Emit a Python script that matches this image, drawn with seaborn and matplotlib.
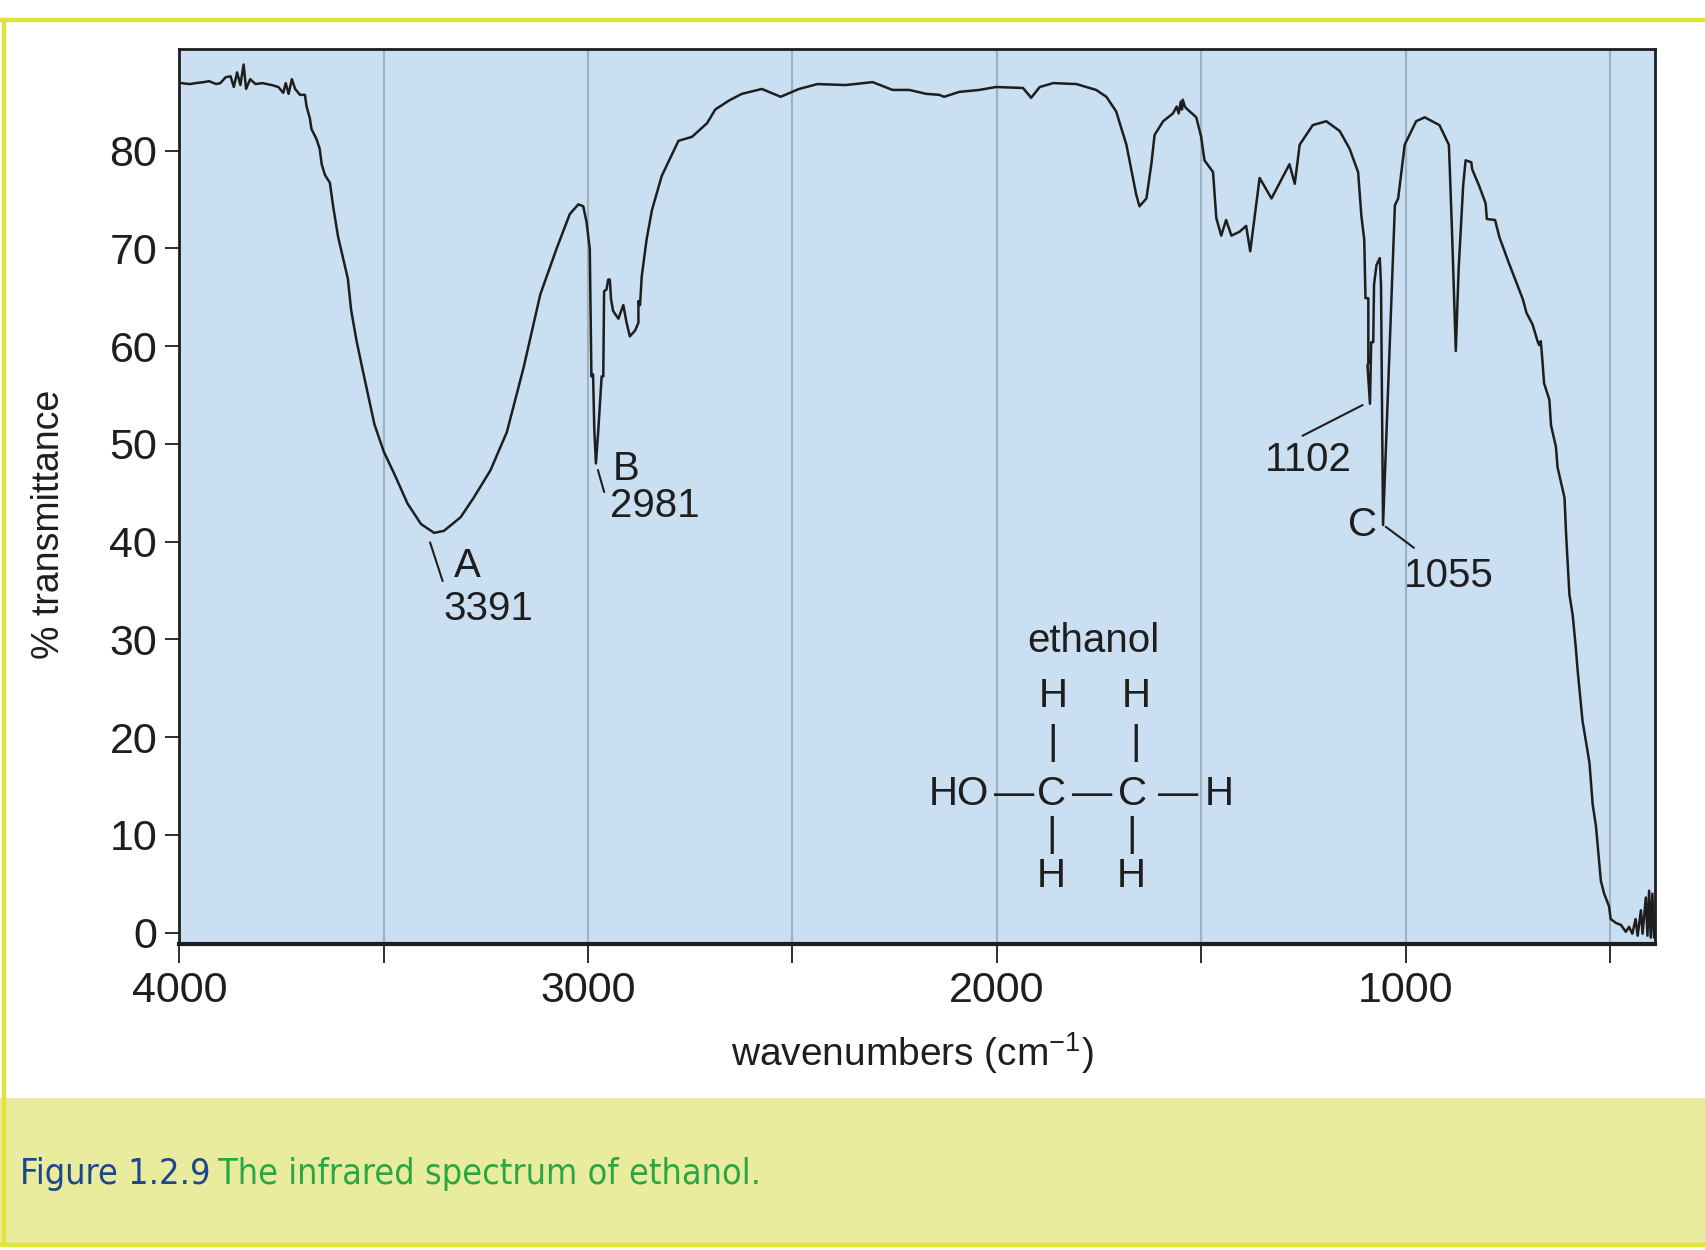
import numpy as np
import pandas as pd
import matplotlib
matplotlib.use("Agg")
import matplotlib.pyplot as plt
import seaborn as sns
from matplotlib import font_manager
from matplotlib.patches import Rectangle
from matplotlib.lines import Line2D

# --------------------------------------------
# Spectrum
# --------------------------------------------
wavenumber = [
    3995, 3975, 3960, 3940, 3928, 3910, 3900, 3887, 3875, 3867, 3859, 3851,
    3843, 3837, 3827, 3814, 3798, 3774, 3758, 3746, 3740, 3733, 3725, 3717,
    3705, 3693, 3689, 3681, 3677, 3665, 3657, 3652, 3644, 3632, 3624, 3612,
    3588, 3580, 3567, 3555, 3539, 3523, 3500, 3474, 3442, 3409, 3377, 3353,
    3312, 3280, 3239, 3199, 3158, 3117, 3077, 3045, 3024, 3012, 3004, 2996,
    2992, 2988, 2985, 2981, 2975, 2967, 2963, 2961, 2955, 2951, 2947, 2944,
    2939, 2926, 2914, 2906, 2898, 2885, 2877, 2877, 2873, 2869, 2857, 2844,
    2820, 2779, 2746, 2709, 2689, 2656, 2624, 2575, 2529, 2484, 2439, 2370,
    2304, 2255, 2214, 2173, 2141, 2129, 2092, 2043, 2002, 1941, 1936, 1916,
    1895, 1862, 1805, 1757, 1732, 1708, 1683, 1659, 1651, 1634, 1622, 1614,
    1593, 1569, 1560, 1555, 1550, 1547, 1545, 1540, 1536, 1512, 1500, 1492,
    1471, 1463, 1451, 1439, 1426, 1406, 1390, 1380, 1357, 1328, 1284, 1271,
    1259, 1227, 1194, 1161, 1137, 1116, 1108, 1101, 1098, 1091, 1091, 1093,
    1087, 1084, 1079, 1077, 1071, 1063, 1060, 1055, 1026, 1018, 1002, 974,
    953, 917, 894, 892, 886, 877, 870, 859, 853, 839, 837, 820,
    804, 801, 781, 770, 748, 713, 704, 689, 677, 673, 669, 665,
    661, 648, 644, 632, 628, 611, 607, 599, 591, 583, 579, 567,
    550, 542, 534, 522, 514, 502, 498, 485, 473, 461, 453, 445,
    437, 432, 424, 420, 412, 408, 404, 400, 396, 392,
]
transmittance = [
    86.9, 86.8, 86.9, 87.0, 87.1, 86.8, 86.9, 87.5, 87.6, 86.5, 88.0, 86.7,
    88.8, 86.3, 87.3, 86.8, 86.9, 86.7, 86.5, 85.9, 86.9, 85.8, 87.3, 86.3,
    85.7, 85.7, 84.5, 83.3, 82.2, 81.2, 80.2, 78.6, 77.5, 76.7, 74.3, 71.2,
    66.9, 63.7, 60.6, 58.2, 55.1, 52.0, 49.2, 46.9, 43.9, 41.8, 40.9, 41.1,
    42.5, 44.5, 47.3, 51.2, 57.8, 65.3, 70.0, 73.5, 74.5, 74.3, 72.7, 69.9,
    56.9, 57.1, 51.5, 48.0, 51.5, 56.9, 56.9, 65.6, 65.8, 66.8, 66.8, 64.8,
    63.6, 62.8, 64.2, 62.4, 61.0, 61.6, 62.4, 64.6, 64.2, 67.1, 70.9, 73.9,
    77.4, 81.0, 81.4, 82.8, 84.2, 85.1, 85.8, 86.3, 85.5, 86.3, 86.8, 86.7,
    87.0, 86.2, 86.2, 85.8, 85.7, 85.5, 86.0, 86.2, 86.5, 86.4, 86.4, 85.4,
    86.5, 86.9, 86.8, 86.2, 85.5, 84.0, 80.6, 75.5, 74.3, 75.1, 78.6, 81.6,
    83.0, 83.8, 84.5, 83.8, 85.0, 84.2, 85.2, 84.5, 84.3, 83.4, 81.4, 79.0,
    77.8, 73.1, 71.3, 72.9, 71.3, 71.7, 72.3, 69.7, 77.2, 75.1, 78.6, 76.6,
    80.6, 82.6, 83.0, 82.0, 80.2, 77.8, 73.3, 70.9, 64.9, 64.9, 58.3, 58.0,
    54.1, 60.4, 60.4, 66.3, 68.3, 69.0, 66.3, 41.7, 74.4, 75.1, 80.6, 83.0,
    83.4, 82.6, 80.6, 78.5, 71.4, 59.5, 67.9, 76.4, 79.0, 78.8, 78.1, 76.4,
    74.6, 73.0, 72.9, 71.1, 68.6, 64.8, 63.4, 62.2, 60.5, 60.1, 60.5, 58.5,
    56.2, 54.5, 51.9, 49.7, 47.6, 44.5, 40.7, 34.6, 32.5, 29.0, 26.9, 21.7,
    17.4, 13.1, 10.9, 5.3, 4.0, 2.7, 1.4, 1.0, 0.8, 0.1, 0.6, -0.1,
    1.4, -0.3, 2.3, -0.1, 3.6, -0.3, 4.3, -0.5, 4.0, -0.5,
]

x_ticks = [4000, 3500, 3000, 2500, 2000, 1500, 1000, 500]
x_tick_labels = ["4000", "", "3000", "", "2000", "", "1000", ""]
y_ticks = [0, 10, 20, 30, 40, 50, 60, 70, 80]

# labelled peaks: (letter, wavenumber)
peaks = [("A", 3391), ("B", 2981), ("C", 1055)]

df = pd.DataFrame({"wavenumber": wavenumber, "transmittance": transmittance})

# --------------------------------------------
# Fonts / style
# --------------------------------------------
sns.set_style("white")
fonts = font_manager.fontManager.ttflist
names = {f.name for f in fonts}
main_font = "Liberation Sans Narrow" if "Liberation Sans Narrow" in names else "Liberation Sans"
plt.rcParams["font.family"] = [main_font, "DejaVu Sans"]
plt.rcParams["mathtext.fontset"] = "custom"
plt.rcParams["mathtext.rm"] = main_font
plt.rcParams["mathtext.default"] = "regular"

# a condensed face for the caption, if one is installed
cap_font = None
for f in fonts:
    if ("Narrow" in f.name or "Condensed" in f.name or f.stretch == "condensed") \
            and f.style == "normal" and f.weight in (400, "normal", "regular"):
        cap_font = font_manager.FontProperties(fname=f.fname)
        break
if cap_font is None:
    cap_font = font_manager.FontProperties(family=main_font)

ink = "#1e1e1e"

fig = plt.figure(figsize=(17.06, 12.5), dpi=100)
fig.patch.set_facecolor("white")

# frame and caption band
fig.patches.append(Rectangle((0, 0.005), 1, 0.117, transform=fig.transFigure,
                             facecolor="#e9ec9c", edgecolor="none", zorder=0))
fig.add_artist(Line2D([0, 1], [0.9843, 0.9843], color="#dfe33a", lw=3.2))
fig.add_artist(Line2D([0.0022, 0.0022], [0.005, 0.9843], color="#dfe33a", lw=3.2))
fig.add_artist(Line2D([0, 1], [0.004, 0.004], color="#dfe33a", lw=3.2))

ax = fig.add_axes([0.1052, 0.2452, 0.8648, 0.7157])
ax.set_facecolor("#cbdff2")

for gx in x_ticks[1:]:
    ax.axvline(gx, color="#9db3c3", lw=1.6, zorder=0)

sns.lineplot(data=df, x="wavenumber", y="transmittance", sort=False,
             estimator=None, color=ink, lw=1.8, ax=ax)

ax.set_xlim(4000, 390)
ax.set_ylim(-1.1, 90.4)
ax.set_xticks(x_ticks)
ax.set_xticklabels(x_tick_labels)
ax.set_yticks(y_ticks)
ax.tick_params(axis="x", direction="out", length=14, width=1.3, color=ink,
               labelsize=31, pad=6, labelcolor=ink)
ax.tick_params(axis="y", direction="out", length=10, width=1.3, color=ink,
               labelsize=31, pad=6, labelcolor=ink)
ax.tick_params(left=True, bottom=True)
for side in ["top", "left", "right"]:
    ax.spines[side].set_color(ink)
    ax.spines[side].set_linewidth(2)
ax.spines["bottom"].set_color(ink)
ax.spines["bottom"].set_linewidth(3)

ax.set_xlabel("wavenumbers (cm$^{-1}$)", fontsize=28, color=ink)
ax.xaxis.set_label_coords(0.497, -0.097)
ax.set_ylabel("% transmittance", fontsize=27, color=ink)
ax.yaxis.set_label_coords(-0.076, 0.468)

# --------------------------------------------
# Peak annotations
# --------------------------------------------
fs = 29
ax.annotate("", xy=(3389, 40.2), xytext=(3354, 35.7),
            arrowprops=dict(arrowstyle="-", color=ink, lw=1.5))
ax.text(3328, 37.5, peaks[0][0], fontsize=fs, color=ink, va="center", ha="left")
ax.text(3354, 33.1, str(peaks[0][1]), fontsize=fs, color=ink, va="center", ha="left")

ax.annotate("", xy=(2978, 47.6), xytext=(2959, 44.8),
            arrowprops=dict(arrowstyle="-", color=ink, lw=1.5))
ax.text(2941, 47.4, peaks[1][0], fontsize=fs, color=ink, va="center", ha="left")
ax.text(2946, 43.6, str(peaks[1][1]), fontsize=fs, color=ink, va="center", ha="left")

ax.annotate("", xy=(1099, 54.1), xytext=(1258, 50.7),
            arrowprops=dict(arrowstyle="-", color=ink, lw=1.5))
ax.text(1237, 48.4, "1102", fontsize=fs, color=ink, va="center", ha="center")

ax.annotate("", xy=(1054, 41.7), xytext=(974, 39.2),
            arrowprops=dict(arrowstyle="-", color=ink, lw=1.5))
ax.text(1104, 41.7, peaks[2][0], fontsize=fs, color=ink, va="center", ha="center")
ax.text(1003, 36.5, str(peaks[2][1]), fontsize=fs, color=ink, va="center", ha="left")

# ethanol structure
ax.text(1764, 29.8, "ethanol", fontsize=fs, color=ink, ha="center", va="center")
atoms = [("H", 1863, 24.2), ("H", 1660, 24.2),
         ("|", 1863, 19.4), ("|", 1660, 19.4),
         ("HO", 2092, 14.2), ("\u2014", 1958, 14.2), ("C", 1865, 14.2),
         ("\u2014", 1768, 14.2), ("C", 1668, 14.2), ("\u2014", 1557, 14.2),
         ("H", 1455, 14.2),
         ("|", 1866, 10.0), ("|", 1670, 10.0),
         ("H", 1866, 5.8), ("H", 1670, 5.8)]
for label, ax_x, ax_y in atoms:
    ax.text(ax_x, ax_y, label, fontsize=fs, color=ink, ha="center", va="center")

# --------------------------------------------
# Caption (fitted to the width it takes in the original)
# --------------------------------------------
cap_y = 0.0609
target_w = 0.437 * fig.get_figwidth() * fig.dpi
cap_fs = 36
gap = 0.32
cap1 = fig.text(0.0115, cap_y, "Figure 1.2.9", fontproperties=cap_font, fontsize=cap_fs,
                color="#1c4690", va="center", ha="left")
cap2 = fig.text(0.3, cap_y, "The infrared spectrum of ethanol.", fontproperties=cap_font,
                fontsize=cap_fs, color="#2aa645", va="center", ha="left")
for _ in range(3):
    fig.canvas.draw()
    r = fig.canvas.get_renderer()
    bb1 = cap1.get_window_extent(renderer=r)
    x_next = fig.transFigure.inverted().transform((bb1.x1 + gap * cap_fs, bb1.y0))[0]
    cap2.set_x(x_next)
    fig.canvas.draw()
    bb2 = cap2.get_window_extent(renderer=r)
    cap_fs = cap_fs * target_w / (bb2.x1 - bb1.x0)
    cap1.set_fontsize(cap_fs)
    cap2.set_fontsize(cap_fs)
fig.canvas.draw()
bb1 = cap1.get_window_extent(renderer=fig.canvas.get_renderer())
cap2.set_x(fig.transFigure.inverted().transform((bb1.x1 + gap * cap_fs, bb1.y0))[0])

fig.savefig("out.png", dpi=100)
